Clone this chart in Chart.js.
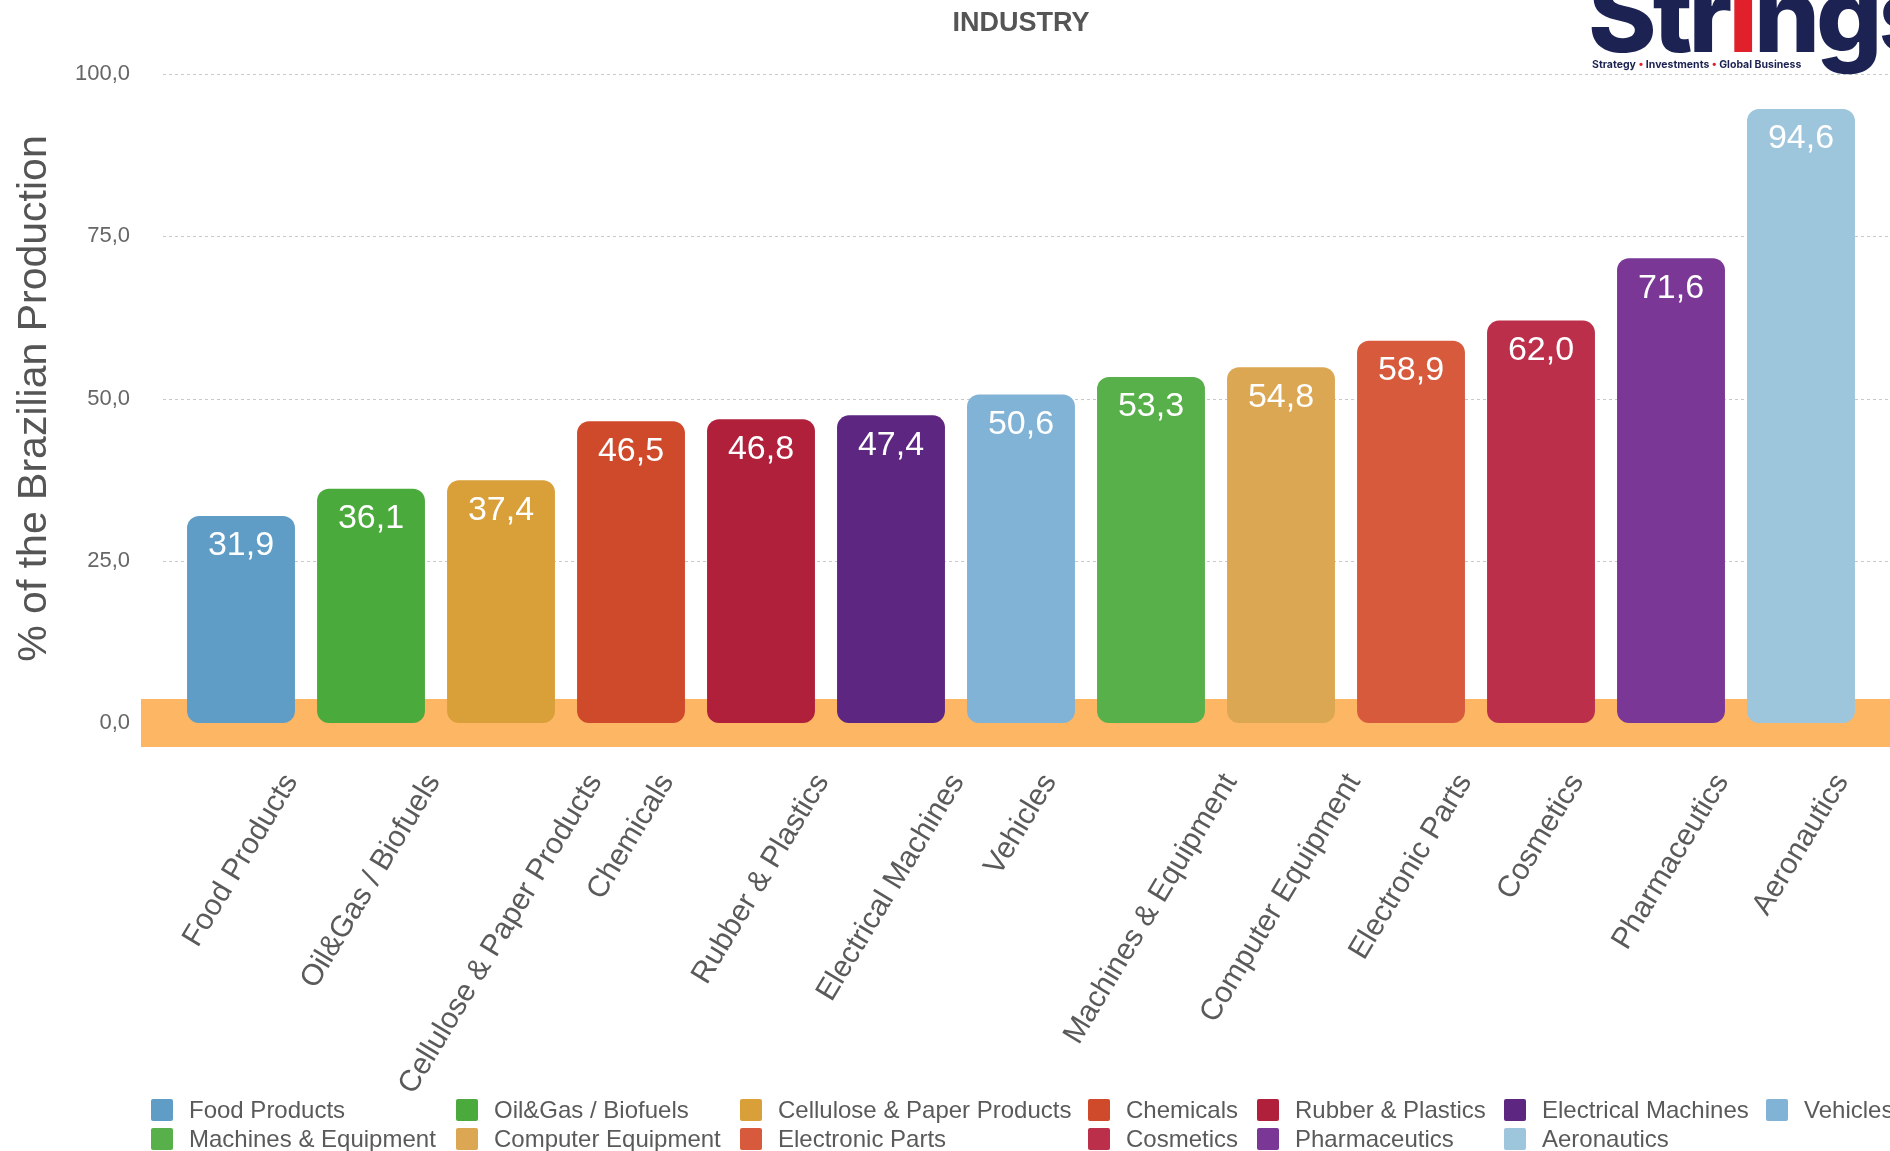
<!DOCTYPE html>
<html>
<head>
<meta charset="utf-8">
<title>Industry</title>
<script src="https://cdn.jsdelivr.net/npm/chart.js@4.4.1/dist/chart.umd.min.js"></script>
<style>
  body { margin: 0; background: #fff; font-family: "Liberation Sans", Arial, sans-serif; }
  #wrap { position: relative; width: 1890px; height: 1151px; overflow: hidden; }
  #chart { position: absolute; left: 0; top: 0; }
  #title { position: absolute; left: 871px; width: 300px; top: 6px; text-align: center;
           font-size: 27px; line-height: 32px; font-weight: bold; color: #555; }
  #logo { position: absolute; left: 1588px; top: -38px; white-space: nowrap; color: #1c2252;
          font-family: Inter, "Noto Sans", sans-serif; font-weight: 800; font-size: 104px;
          line-height: 104px; letter-spacing: -4px; }
  #logo .red { color: #e0202a; }
  #tagline { position: absolute; left: 1592px; top: 58px; white-space: nowrap; color: #1c2252;
             font-family: Inter, "Noto Sans", sans-serif; font-weight: 700; font-size: 10.5px; }
  #tagline .dot { color: #e0202a; }
  .leg { position: absolute; height: 26px; display: flex; align-items: center; white-space: nowrap;
         font-size: 24px; color: #5a5a5a; }
  .leg i { display: inline-block; width: 22px; height: 22px; margin-right: 16px; border-radius: 2px; }
</style>
</head>
<body>
<div id="wrap">
  <canvas id="chart" width="1890" height="1151"></canvas>
  <div id="title">INDUSTRY</div>
  <div id="logo">St<span>r</span><span class="red">ı</span>ngs</div>
  <div id="tagline">Strategy <span class="dot">•</span> Investments <span class="dot">•</span> Global Business</div>
  <div id="legend"></div>
</div>
<script>
const categories = [
  'Food Products', 'Oil&Gas / Biofuels', 'Cellulose & Paper Products', 'Chemicals',
  'Rubber & Plastics', 'Electrical Machines', 'Vehicles', 'Machines & Equipment',
  'Computer Equipment', 'Electronic Parts', 'Cosmetics', 'Pharmaceutics', 'Aeronautics'
];
const shares = [31.9, 36.1, 37.4, 46.5, 46.8, 47.4, 50.6, 53.3, 54.8, 58.9, 62.0, 71.6, 94.6];
const barColors = [
  '#5f9dc6', '#4baa3c', '#d9a03a', '#cf4a2b', '#b0203b', '#5d2681', '#80b3d6',
  '#58b04a', '#dca752', '#d75a3d', '#bb2f4b', '#7a3796', '#9dc5dc'
];
const yTicks = [0, 25, 50, 75, 100];

const fmt = v => v.toFixed(1).replace('.', ',');

// legend: 7 columns, two rows, filled row by row
const legendCols = [151, 456, 740, 1088, 1257, 1504, 1766];
const legendRows = [1097, 1126];
const legendEl = document.getElementById('legend');
categories.forEach((name, i) => {
  const d = document.createElement('div');
  d.className = 'leg';
  d.style.left = legendCols[i % 7] + 'px';
  d.style.top = legendRows[Math.floor(i / 7)] + 'px';
  d.innerHTML = '<i style="background:' + barColors[i] + '"></i>' + name;
  legendEl.appendChild(d);
});

// dashed grid + orange floor band behind the bars
const backdrop = {
  id: 'backdrop',
  beforeDatasetsDraw(chart) {
    const ctx = chart.ctx, y = chart.scales.y;
    ctx.save();
    ctx.strokeStyle = '#c9c9c9';
    ctx.lineWidth = 1;
    ctx.setLineDash([3, 3]);
    yTicks.forEach(t => {
      const py = Math.round(y.getPixelForValue(t)) + 0.5;
      ctx.beginPath();
      ctx.moveTo(163, py);
      ctx.lineTo(chart.width, py);
      ctx.stroke();
    });
    ctx.setLineDash([]);
    const y0 = y.getPixelForValue(0);
    ctx.fillStyle = '#fcb664';
    ctx.fillRect(141, y0 - 24, chart.width - 141, 48);
    ctx.restore();
  }
};

// value inside the top of each bar
const barValues = {
  id: 'barValues',
  afterDatasetsDraw(chart) {
    const ctx = chart.ctx;
    const meta = chart.getDatasetMeta(0);
    ctx.save();
    ctx.fillStyle = '#fff';
    ctx.font = '34px "Liberation Sans", Arial, sans-serif';
    ctx.textAlign = 'center';
    ctx.textBaseline = 'middle';
    meta.data.forEach((bar, i) => {
      ctx.fillText(fmt(shares[i]), bar.x, bar.y + 30);
    });
    ctx.restore();
  }
};

// rotated category names, centred under each bar
const xLabels = {
  id: 'xLabels',
  afterDraw(chart) {
    const ctx = chart.ctx, x = chart.scales.x, y = chart.scales.y;
    const ang = 59 * Math.PI / 180;
    const size = 30;
    const top = y.getPixelForValue(0) + 48;
    ctx.save();
    ctx.fillStyle = '#5a5a5a';
    ctx.font = size + 'px "Liberation Sans", Arial, sans-serif';
    ctx.textAlign = 'center';
    ctx.textBaseline = 'middle';
    categories.forEach((name, i) => {
      const w = ctx.measureText(name).width;
      const ext = w * Math.sin(ang) + size * 0.75 * Math.cos(ang);
      ctx.save();
      ctx.translate(x.getPixelForValue(i), top + ext / 2);
      ctx.rotate(-ang);
      ctx.fillText(name, 0, 0);
      ctx.restore();
    });
    ctx.restore();
  }
};

new Chart(document.getElementById('chart'), {
  type: 'bar',
  data: {
    labels: categories,
    datasets: [{
      label: '% of the Brazilian Production',
      data: shares,
      backgroundColor: barColors,
      borderRadius: 12,
      borderSkipped: false,
      barPercentage: 0.83,
      categoryPercentage: 1
    }]
  },
  options: {
    responsive: false,
    animation: false,
    layout: { padding: { top: 74, right: 24, bottom: 428, left: 0 } },
    plugins: {
      legend: { display: false },
      tooltip: { enabled: false }
    },
    scales: {
      x: { display: false },
      y: {
        min: 0,
        max: 100,
        afterBuildTicks: axis => { axis.ticks = yTicks.map(v => ({ value: v })); },
        afterFit: axis => { axis.width = 176; },
        grid: { display: false, drawTicks: false },
        border: { display: false },
        ticks: {
          padding: 46,
          color: '#666',
          font: { family: '"Liberation Sans", Arial, sans-serif', size: 22 },
          callback: v => fmt(v)
        },
        title: {
          display: true,
          text: '% of the Brazilian Production',
          color: '#555',
          font: { family: '"Liberation Sans", Arial, sans-serif', size: 41 },
          padding: { top: 10, bottom: 20 }
        }
      }
    }
  },
  plugins: [backdrop, barValues, xLabels]
});
</script>
</body>
</html>
